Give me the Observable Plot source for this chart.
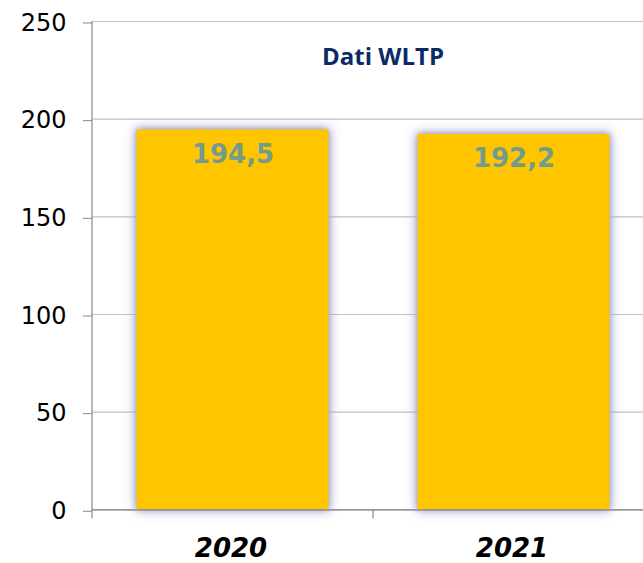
<!DOCTYPE html>
<html>
<head>
<meta charset="utf-8">
<script src="https://cdn.jsdelivr.net/npm/d3@7"></script>
<script src="https://cdn.jsdelivr.net/npm/@observablehq/plot@0.6"></script>
<style>
  html, body { margin: 0; padding: 0; background: #fff; overflow: hidden; }
  #wrap { width: 643px; height: 563px; overflow: hidden; position: relative; }
  #wrap svg { display: block; overflow: hidden; max-width: none !important; width: 654px !important; height: 563px !important; }
  g[aria-label="bar"] rect { filter: drop-shadow(0 0 3px rgba(150, 150, 200, 1)) drop-shadow(0 0 6px rgba(175, 175, 215, 0.9)); }
</style>
</head>
<body>
<div id="wrap"></div>
<script>
const years = ["2020", "2021"];
const values = [194.5, 192.2];
const valueLabels = ["194,5", "192,2"];
const yTicks = [0, 50, 100, 150, 200, 250];
const title = "Dati WLTP";

const data = years.map((year, i) => ({year, value: values[i], label: valueLabels[i]}));

const axisLines = (index, scales, values, dimensions) => {
  const {marginLeft, marginRight, marginTop, marginBottom, width, height} = dimensions;
  const y0 = height - marginBottom;
  const step = (width - marginLeft - marginRight) / years.length;
  const g = d3.create("svg:g").attr("stroke", "#878787").attr("stroke-width", 1.2);
  g.append("line").attr("x1", marginLeft).attr("x2", marginLeft).attr("y1", marginTop).attr("y2", y0 + 9);
  for (let i = 1; i <= years.length; i++) {
    const x = marginLeft + i * step;
    g.append("line").attr("x1", x).attr("x2", x).attr("y1", y0).attr("y2", y0 + 9);
  }
  return g.node();
};

const chart = Plot.plot({
  width: 654,
  height: 563,
  marginLeft: 92,
  marginRight: 0,
  marginTop: 21,
  marginBottom: 53.7,
  style: {background: "#fff", color: "#000"},
  x: {type: "band", domain: years, paddingInner: 0.317, paddingOuter: 0.1585, round: false, label: null},
  y: {domain: [0, 250], ticks: yTicks, label: null},
  marks: [
    Plot.gridY(yTicks, {stroke: "#c0c0c0", strokeOpacity: 1, strokeWidth: 1.2}),
    Plot.barY(data, {x: "year", y: "value", fill: "#ffc600"}),
    Plot.ruleY([0], {stroke: "#878787", strokeWidth: 1.2}),
    axisLines,
    Plot.axisY(yTicks, {
      tickSize: 9, tickPadding: 17, stroke: "#878787",
      fontSize: 24, fontFamily: "DejaVu Sans", fill: "#000", dy: 1.5,
      tickFormat: d => String(d), label: null
    }),
    Plot.axisX({
      tickSize: 0, tickPadding: 29, fontSize: 26, fontFamily: "DejaVu Sans",
      fontWeight: "bold", fontStyle: "italic", fill: "#000", dx: -2, label: null
    }),
    Plot.text(data, {
      x: "year", y: "value", text: "label", dy: 24.5, lineAnchor: "middle",
      fontSize: 26, fontFamily: "DejaVu Sans", fontWeight: "bold", fill: "#739b8c"
    }),
    Plot.text([title], {
      frameAnchor: "top", lineAnchor: "middle", dx: 9.5, dy: 36.3,
      fontSize: 24, fontFamily: "Open Sans", fontWeight: "bold", fill: "#0b2a68"
    })
  ]
});

document.getElementById("wrap").appendChild(chart);
</script>
</body>
</html>
